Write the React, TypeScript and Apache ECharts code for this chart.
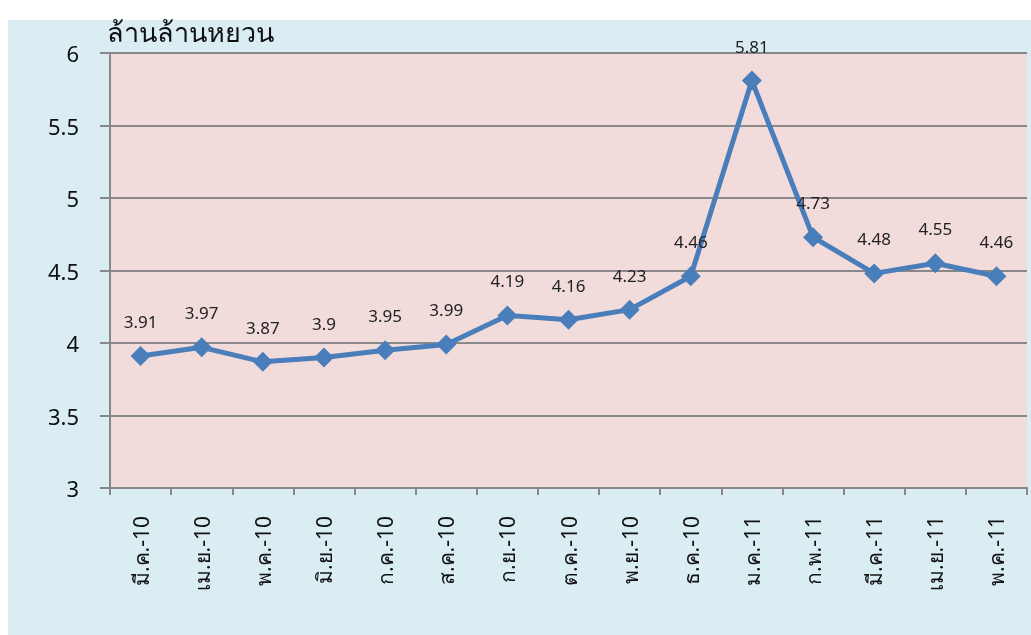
import React, { useEffect, useRef } from "react";
import * as echarts from "echarts";

const categories = [
  "มี.ค.-10", "เม.ย.-10", "พ.ค.-10", "มิ.ย.-10", "ก.ค.-10", "ส.ค.-10", "ก.ย.-10",
  "ต.ค.-10", "พ.ย.-10", "ธ.ค.-10", "ม.ค.-11", "ก.พ.-11", "มี.ค.-11", "เม.ย.-11", "พ.ค.-11",
];
const values = [3.91, 3.97, 3.87, 3.9, 3.95, 3.99, 4.19, 4.16, 4.23, 4.46, 5.81, 4.73, 4.48, 4.55, 4.46];
const yTicks = { min: 3, max: 6, interval: 0.5 };
const unitLabel = "ล้านล้านหยวน";

export default function App() {
  const ref = useRef<HTMLDivElement>(null);
  useEffect(() => {
    if (!ref.current) return;
    const chart = echarts.init(ref.current, null, { renderer: "svg" });
    const font = "'Noto Sans', 'DejaVu Sans', sans-serif";
    chart.setOption({
      animation: false,
      textStyle: { fontFamily: font },
      graphic: [
        {
          type: "rect",
          shape: { x: 0, y: 20, width: 1023, height: 615 },
          style: { fill: "#DAEDF3" },
          z: -10,
        },
        {
          type: "text",
          left: 99,
          top: 18,
          style: { text: unitLabel, fontSize: 27, fill: "#111", fontFamily: font },
        },
      ],
      grid: {
        left: 102,
        right: 4,
        top: 53,
        bottom: 147,
        show: true,
        backgroundColor: "#F2DCDB",
        borderWidth: 0,
      },
      xAxis: {
        type: "category",
        data: categories,
        boundaryGap: true,
        axisLine: { show: true, lineStyle: { color: "#888", width: 2 } },
        axisTick: { show: true, length: 7, lineStyle: { color: "#888", width: 2 } },
        axisLabel: { rotate: 90, fontSize: 21, color: "#111", margin: 28, fontFamily: font },
      },
      yAxis: {
        type: "value",
        min: yTicks.min,
        max: yTicks.max,
        interval: yTicks.interval,
        axisLine: { show: true, lineStyle: { color: "#888", width: 2 } },
        axisTick: { show: true, length: 10, lineStyle: { color: "#888", width: 2 } },
        axisLabel: { fontSize: 22, color: "#111", margin: 31, fontFamily: font },
        splitLine: { show: true, lineStyle: { color: "#888", width: 2 } },
      },
      series: [
        {
          type: "line",
          data: values,
          lineStyle: { color: "#4A7EBB", width: 5 },
          itemStyle: { color: "#4A7EBB" },
          symbol: "diamond",
          symbolSize: 20,
          label: {
            show: true,
            position: "top",
            distance: 16,
            fontSize: 17,
            color: "#222",
            fontFamily: font,
          },
        },
      ],
    });
    return () => chart.dispose();
  }, []);
  return (
    <div
      ref={ref}
      style={{ position: "fixed", left: 8, top: 0, width: 1023, height: 635 }}
    />
  );
}
